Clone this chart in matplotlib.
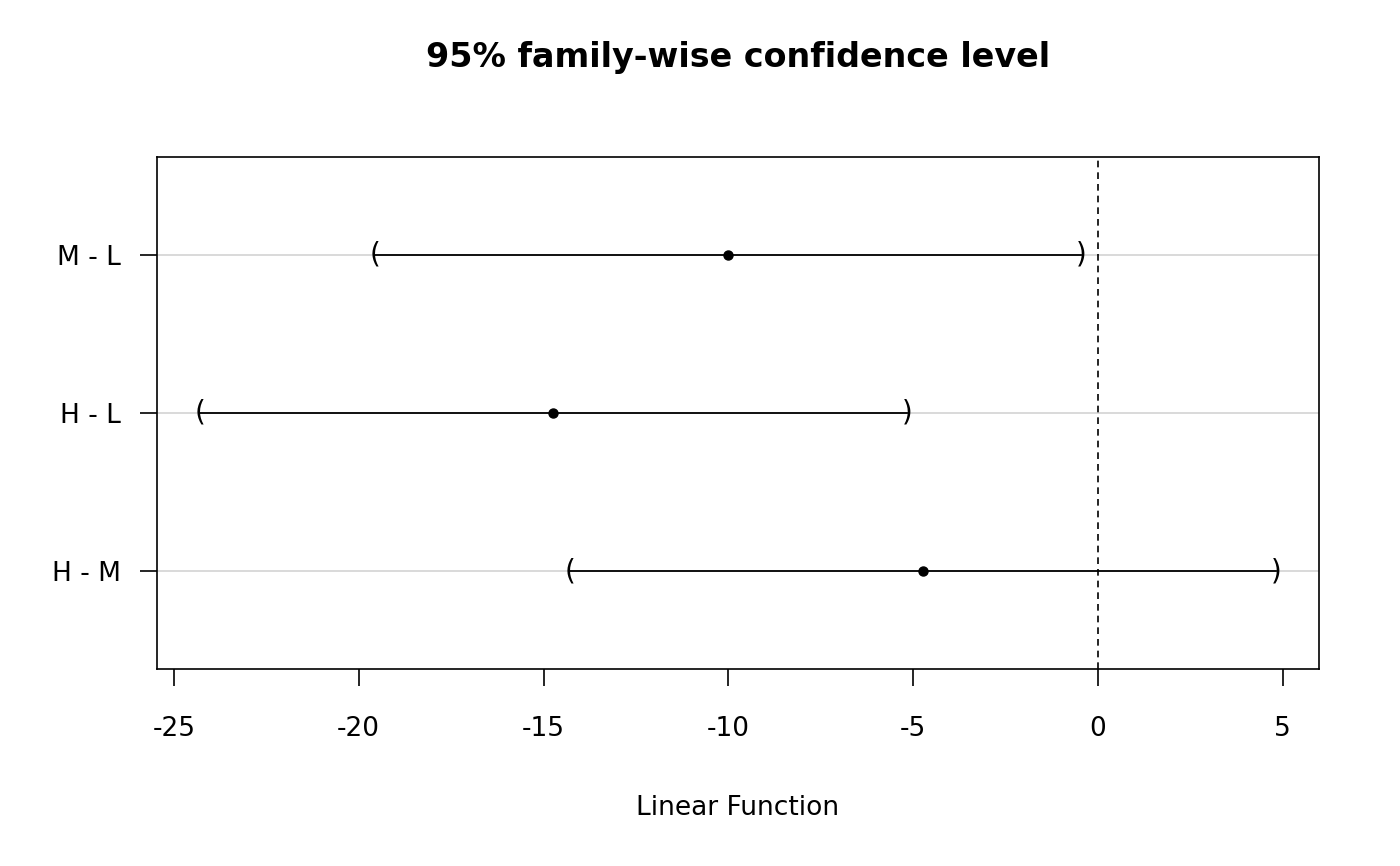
import matplotlib
matplotlib.use("Agg")
import matplotlib.pyplot as plt

labels = ["H - M", "H - L", "M - L"]
est = [-4.73, -14.75, -10.01]
lwr = [-14.29, -24.30, -19.56]
upr = [4.82, -5.17, -0.46]
xticks = [-25, -20, -15, -10, -5, 0, 5]

fig = plt.figure(figsize=(14, 8.66), dpi=100)
ax = fig.add_axes([0.1121, 0.2275, 0.8300, 0.5912])
ypos = list(range(1, len(labels) + 1))
for y in ypos:
    ax.axhline(y, color="#d3d3d3", lw=1.2, zorder=0)
ax.axvline(0, color="black", ls=(0, (4, 3)), lw=1.2)
for y, e, l, u in zip(ypos, est, lwr, upr):
    ax.plot([l, u], [y, y], color="black", lw=1.3)
    ax.text(l, y, "(", ha="center", va="center", fontsize=20)
    ax.text(u, y, ")", ha="center", va="center", fontsize=20)
    ax.plot(e, y, "o", color="black", ms=6.5)
ax.set_xlim(-25.46, 5.98)
ax.set_ylim(0.38, 3.62)
ax.set_xticks(xticks)
ax.set_xticklabels([str(t) for t in xticks], fontsize=19)
ax.set_yticks(ypos)
ax.set_yticklabels(labels, fontsize=19)
ax.tick_params(length=12, width=1.2, pad=14)
ax.tick_params(axis="x", pad=22)
for s in ax.spines.values():
    s.set_linewidth(1.2)
ax.set_xlabel("Linear Function", fontsize=19, labelpad=38)
fig.text(0.527, 0.934, "95% family-wise confidence level", ha="center",
         va="center", fontsize=24, fontweight="bold")
fig.savefig("out.png")
